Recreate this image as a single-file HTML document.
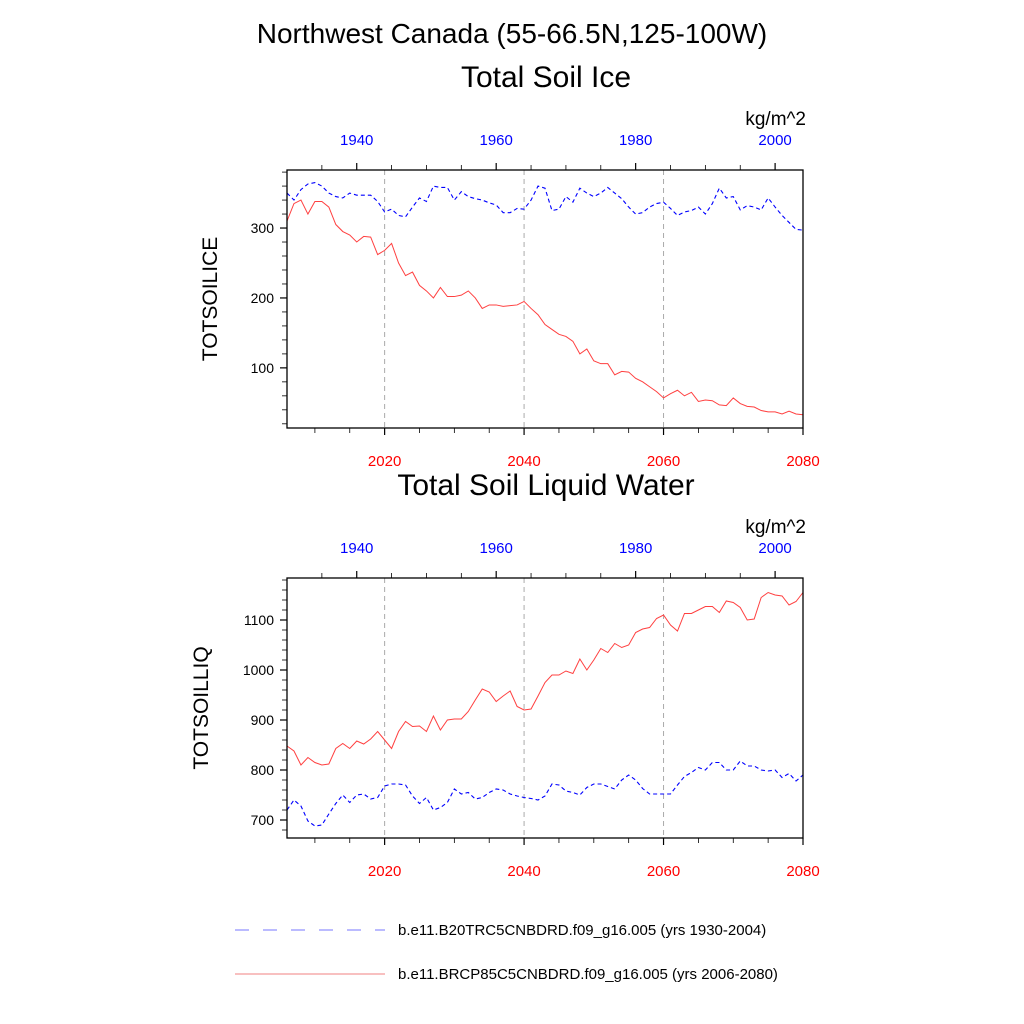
<!DOCTYPE html>
<html><head><meta charset="utf-8"><style>
body{margin:0;background:#fff}
svg{display:block;font-family:"Liberation Sans",sans-serif}
</style></head><body>
<svg id="c" width="1024" height="1024" viewBox="0 0 1024 1024">
<text x="512" y="43" font-size="28" text-anchor="middle">Northwest Canada (55-66.5N,125-100W)</text>
<text x="546" y="87" font-size="30" text-anchor="middle">Total Soil Ice</text>
<text x="546" y="495" font-size="30" text-anchor="middle">Total Soil Liquid Water</text>
<line x1="235" y1="930" x2="385" y2="930" stroke="#7777ff" stroke-dasharray="14,14"/>
<text x="398" y="935" font-size="15">b.e11.B20TRC5CNBDRD.f09_g16.005 (yrs 1930-2004)</text>
<line x1="235" y1="974" x2="385" y2="974" stroke="#f08080"/>
<text x="398" y="979" font-size="15">b.e11.BRCP85C5CNBDRD.f09_g16.005 (yrs 2006-2080)</text>
</svg>
<script>
const futureYears=[];for(let y=2006;y<=2080;y++)futureYears.push(y);
const histYears=[];for(let y=1930;y<=2004;y++)histYears.push(y);
const iceFuture=[310,335,340,320,338,338,330,305,295,290,280,288,287,262,268,278,250,232,237,218,210,200,215,202,202,204,210,200,185,190,190,188,189,190,195,185,176,162,155,148,145,138,120,127,110,106,106,90,95,94,85,80,73,66,57,63,68,60,65,52,54,53,47,46,57,49,45,44,39,37,37,34,38,34,33];
const iceHist=[350,340,355,363,365,360,350,345,343,350,347,347,347,338,323,327,318,316,330,343,338,360,358,358,340,352,345,342,340,336,333,322,322,328,327,340,360,357,325,327,345,337,357,350,345,350,358,350,342,330,320,322,330,335,337,328,318,323,325,330,320,335,357,343,345,326,332,330,326,343,330,318,308,298,297];
const liqFuture=[848,838,810,825,815,810,812,843,853,843,858,852,862,877,860,843,877,897,887,888,877,908,880,900,902,902,917,940,962,956,937,948,958,927,920,922,948,975,990,990,998,993,1022,1000,1020,1043,1035,1053,1045,1050,1075,1082,1085,1103,1110,1090,1078,1113,1113,1120,1127,1127,1115,1138,1135,1125,1100,1102,1145,1155,1150,1148,1130,1137,1155];
const liqHist=[720,740,728,698,688,690,712,733,750,735,750,752,742,745,768,772,772,770,748,733,745,720,725,735,762,752,755,742,745,755,762,760,752,748,745,743,740,748,772,770,758,755,750,765,772,772,767,762,780,790,780,763,752,752,752,752,770,787,795,805,800,815,815,800,800,818,808,808,800,798,800,785,793,778,790];
const iceTicks=[100,200,300];
const liqTicks=[700,800,900,1000,1100];
const bottomTicks=[2020,2040,2060,2080];
const topTicks=[1940,1960,1980,2000];

const svg=document.getElementById('c');const NS='http://www.w3.org/2000/svg';
function mk(t,a,p){const e=document.createElementNS(NS,t);for(const k in a)e.setAttribute(k,a[k]);(p||svg).appendChild(e);return e;}
const X0=287,X1=803;
const xb=y=>X0+(y-2006)*(X1-X0)/74;
const xt=y=>X0+(y-1930)*(X1-X0)/74;
function panel(name,top,bot,vmin,vmax,ticks,minorStep,fut,hist,ylabel){
  const g=mk('g',{});
  
  
  const ys=v=>bot-(v-vmin)*(bot-top)/(vmax-vmin);
  [2020,2040,2060].forEach(yr=>{const l=mk('line',{x1:xb(yr),x2:xb(yr),y1:top,y2:bot,stroke:'#aaa','stroke-dasharray':'5,4'},g);
    
    });
  for(let v=Math.ceil(vmin/minorStep)*minorStep;v<=vmax;v+=minorStep){
    const maj=ticks.includes(v);
    mk('line',{x1:X0-(maj?7:5),x2:X0,y1:ys(v),y2:ys(v),stroke:'#000','stroke-width':maj?1.2:0.8},g);}
  ticks.forEach(v=>{const t=mk('text',{x:X0-13,y:ys(v)+5,'font-size':14,'text-anchor':'end'},g);t.textContent=v;
    
    });
  for(let y=2010;y<=2080;y+=5){const maj=y%20==0;mk('line',{x1:xb(y),x2:xb(y),y1:bot,y2:bot+(maj?7:5),stroke:'#000','stroke-width':maj?1.2:0.8},g);}
  for(let y=1935;y<=2004;y+=5){const maj=y%20==0;mk('line',{x1:xt(y),x2:xt(y),y1:top,y2:top-(maj?7:5),stroke:'#000','stroke-width':maj?1.2:0.8},g);}
  bottomTicks.forEach(y=>{const t=mk('text',{x:xb(y),y:bot+38,'font-size':15,'text-anchor':'middle',fill:'#ff0000'},g);t.textContent=y;
    
    });
  topTicks.forEach(y=>{const t=mk('text',{x:xt(y),y:top-25,'font-size':15,'text-anchor':'middle',fill:'#0000ff'},g);t.textContent=y;
    
    });
  const u=mk('text',{x:806,y:top-45,'font-size':19,'text-anchor':'end'},g);u.textContent='kg/m^2';
  
  
  const yl=mk('text',{x:0,y:0,'font-size':21,'text-anchor':'middle',transform:`translate(${name=='ice'?217:208},${(top+bot)/2}) rotate(-90)`},g);yl.textContent=ylabel;
  
  
  const ph=mk('polyline',{points:hist.map((v,i)=>xt(histYears[i])+','+ys(v)).join(' '),fill:'none',stroke:'#0000ff','stroke-width':1.1,'stroke-dasharray':'4,3'},g);
  
  
  const pf=mk('polyline',{points:fut.map((v,i)=>xb(futureYears[i])+','+ys(v)).join(' '),fill:'none',stroke:'#ff4040','stroke-width':1},g);
  
  
  const r=mk('rect',{x:X0,y:top,width:X1-X0,height:bot-top,fill:'none',stroke:'#000','stroke-width':1.3},g);
  
  
}
panel('ice',170,428,14,383,iceTicks,20,iceFuture,iceHist,'TOTSOILICE');
panel('liquid',578,838,664,1184,liqTicks,20,liqFuture,liqHist,'TOTSOILLIQ');
</script>
</body></html>
